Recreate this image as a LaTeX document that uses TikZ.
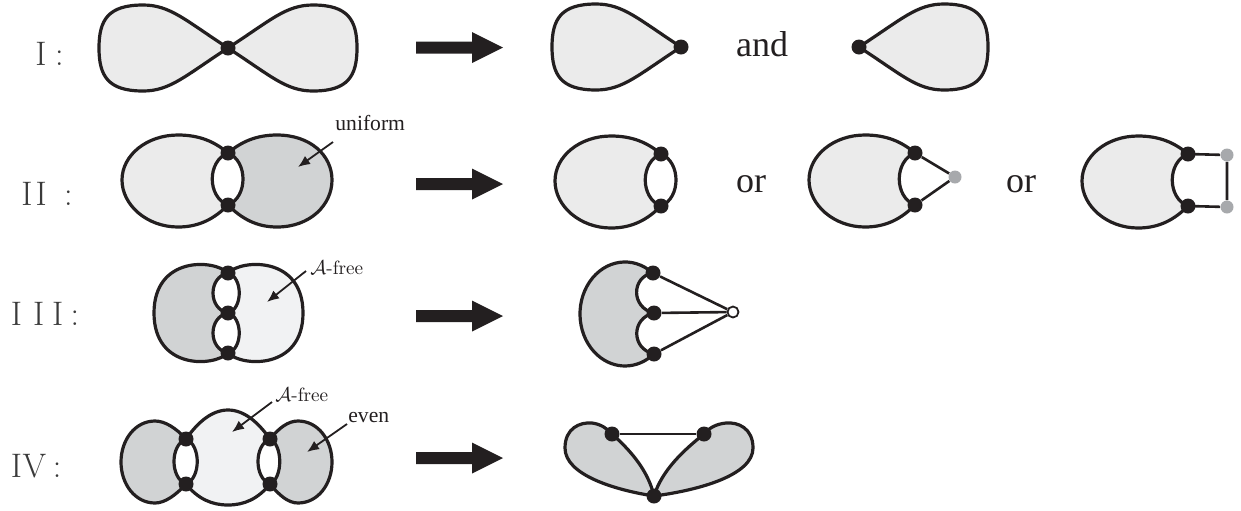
\documentclass[tikz,border=0pt]{standalone}
\usepackage{fontspec}
\newfontfamily\tnr{Liberation Serif}
\usetikzlibrary{arrows.meta}
\definecolor{ink}{HTML}{231F20}
\definecolor{lightg}{HTML}{EBEBEB}
\definecolor{darkg}{HTML}{D1D3D4}
\definecolor{paleg}{HTML}{F1F2F3}
\definecolor{dotg}{HTML}{A7A9AC}
\definecolor{lblc}{HTML}{3A3A3A}
\begin{document}
\begin{tikzpicture}[x=0.5pt,y=-0.5pt,
  outl/.style={draw=ink,line width=1.6pt,line join=round},
  vtx/.style={circle,fill=ink,inner sep=0pt,minimum size=7.5pt},
  gvtx/.style={circle,fill=dotg,inner sep=0pt,minimum size=6.5pt},
  ovtx/.style={circle,draw=ink,fill=white,line width=0.9pt,inner sep=0pt,minimum size=5.5pt},
  edgeln/.style={draw=ink,line width=1.3pt},
  rowlbl/.style={font=\fontsize{17pt}{17pt}\selectfont,text=lblc,inner sep=0pt,anchor=base west},
  word/.style={font=\tnr\fontsize{18pt}{18pt}\selectfont,text=ink,inner sep=0pt,anchor=base},
  smallword/.style={font=\tnr\fontsize{10.8pt}{11pt}\selectfont,text=ink,inner sep=0pt,anchor=base west},
  mathlbl/.style={font=\fontsize{9.6pt}{10pt}\selectfont,text=ink,inner sep=0pt,anchor=base west},
  ptr/.style={draw=ink,line width=0.9pt,-{Latex[length=6pt,width=5pt]}},
  lobe/.pic={\path[outl,fill=lightg] (0,0) .. controls (-43,-28) and (-58,-43) .. (-85,-43)
      .. controls (-120,-43) and (-129,-28) .. (-129,0)
      .. controls (-129,28) and (-120,43) .. (-85,43)
      .. controls (-58,43) and (-43,28) .. (0,0) -- cycle;},
  bigarr/.pic={\fill[ink] (0,-6) -- (56,-6) -- (56,-15.5) -- (87,0) -- (56,15.5) -- (56,6) -- (0,6) -- cycle;}
]
\useasboundingbox (0,0) rectangle (1241,510);

% ---------------- Row I ----------------
\node[rowlbl] (l1) at (35,65) {I\hspace{4.3pt}:};
\path (228,48) pic {lobe};
\path (228,48) pic[xscale=-1] {lobe};
\node[vtx] (r1v) at (228,48) {};
\path (416,47.5) pic {bigarr};
\path (681,47) pic {lobe};
\node[vtx] (r1a) at (681,47) {};
\node[word] (and) at (762,56) {and};
\path (859,47) pic[xscale=-1] {lobe};
\node[vtx] (r1b) at (859,47) {};

% ---------------- Row II ----------------
\node[rowlbl] (l2) at (21,205) {I\hspace{1.5pt}I\hspace{8.7pt}:};
\path[outl,fill=lightg] (228,153) .. controls (215,142) and (200,135) .. (178,135)
  .. controls (147,135) and (122,155) .. (122,180)
  .. controls (122,205) and (147,227) .. (178,227)
  .. controls (200,227) and (215,218) .. (228,205)
  .. controls (207,197) and (207,161) .. (228,153) -- cycle;
\path[outl,fill=darkg] (228,153) .. controls (241,142) and (256,135) .. (277,135)
  .. controls (310,135) and (332,155) .. (332,180)
  .. controls (332,205) and (310,227) .. (277,227)
  .. controls (256,227) and (241,218) .. (228,205)
  .. controls (248,197) and (248,161) .. (228,153) -- cycle;
\node[vtx] (r2a) at (228,153) {};
\node[vtx] (r2b) at (228,205) {};
\node[smallword] (unif) at (335,130) {uniform};
\coordinate (ua) at (333,142);
\coordinate (ut) at (298,167);
\draw[ptr] (ua) -- (ut);
\path (416,184) pic {bigarr};

\begin{scope}[shift={(433,1)}]
\path[outl,fill=lightg] (228,153) .. controls (215,142) and (200,135) .. (178,135)
  .. controls (147,135) and (122,155) .. (122,180)
  .. controls (122,205) and (147,227) .. (178,227)
  .. controls (200,227) and (215,218) .. (228,205)
  .. controls (207,197) and (207,161) .. (228,153) -- cycle;
\draw[outl] (228,205) .. controls (248,197) and (248,161) .. (228,153);
\node[vtx] (s1a) at (228,153) {};
\node[vtx] (s1b) at (228,205) {};
\end{scope}
\node[word] (or1) at (751,192) {or};

\begin{scope}[shift={(687,0)}]
\path[outl,fill=lightg] (228,153) .. controls (215,142) and (200,135) .. (178,135)
  .. controls (147,135) and (122,155) .. (122,180)
  .. controls (122,205) and (147,227) .. (178,227)
  .. controls (200,227) and (215,218) .. (228,205)
  .. controls (207,197) and (207,161) .. (228,153) -- cycle;
\node[vtx] (s2a) at (228,153) {};
\node[vtx] (s2b) at (228,205) {};
\node[gvtx] (s2g) at (268,177) {};
\end{scope}
\draw[edgeln] (s2a) -- (s2g) -- (s2b);
\node[word] (or2) at (1021,192) {or};

\begin{scope}[shift={(960,1)}]
\path[outl,fill=lightg] (228,153) .. controls (215,142) and (200,135) .. (178,135)
  .. controls (147,135) and (122,155) .. (122,180)
  .. controls (122,205) and (147,227) .. (178,227)
  .. controls (200,227) and (215,218) .. (228,205)
  .. controls (207,197) and (207,161) .. (228,153) -- cycle;
\node[gvtx] (s3g) at (267,154) {};
\node[gvtx] (s3h) at (267,206) {};
\end{scope}
\draw[edgeln] (1188,154) coordinate (s3pa) -- (s3g) -- (s3h) -- (1188,206) coordinate (s3pb);
\node[vtx] (s3a) at (s3pa) {};
\node[vtx] (s3b) at (s3pb) {};

% ---------------- Row III ----------------
\node[rowlbl] (l3) at (10.5,325) {I\hspace{5.5pt}I\hspace{4pt}I\hspace{3.6pt}:};
\path[outl,fill=darkg] (228,273) .. controls (214,259) and (154,256) .. (154,313)
  .. controls (154,370) and (214,367) .. (228,353)
  .. controls (208,349) and (208,317) .. (228,313)
  .. controls (208,309) and (208,277) .. (228,273) -- cycle;
\path[outl,fill=paleg] (228,273) .. controls (242,259) and (303,256) .. (303,313)
  .. controls (303,370) and (242,367) .. (228,353)
  .. controls (243,349) and (243,317) .. (228,313)
  .. controls (243,309) and (243,277) .. (228,273) -- cycle;
\node[vtx] (r3a) at (228,273) {};
\node[vtx] (r3b) at (228,313) {};
\node[vtx] (r3c) at (228,353) {};
\node[mathlbl] (af3) at (310,274) {$\mathcal{A}$-free};
\coordinate (aa3) at (306,271);
\coordinate (at3) at (267,302);
\draw[ptr] (aa3) -- (at3);
\path (416,316) pic {bigarr};

\path[outl,fill=darkg] (652.7,273) arc[start angle=308,end angle=50,x radius=45,y radius=52]
  .. controls (631,349) and (631,318) .. (654,313)
  .. controls (631,308) and (631,277) .. (652.7,273) -- cycle;
\node[vtx] (t3a) at (653,273) {};
\node[vtx] (t3b) at (654,313) {};
\node[vtx] (t3c) at (654,354) {};
\node[ovtx] (t3o) at (733,312) {};
\draw[edgeln] (t3a) -- (t3o);
\draw[edgeln] (t3b) -- (t3o);
\draw[edgeln] (t3c) -- (t3o);

% ---------------- Row IV ----------------
\node[rowlbl] (l4) at (10.5,477) {I\hspace{0.3pt}V\hspace{3.4pt}:};
\path[outl,fill=darkg] (186,439) .. controls (176,428) and (165,421) .. (155,421)
  .. controls (135,421) and (121,440) .. (121,462)
  .. controls (121,484) and (135,503) .. (155,503)
  .. controls (165,503) and (176,495) .. (186,484)
  .. controls (170,478) and (170,445) .. (186,439) -- cycle;
\path[outl,fill=paleg] (186,439) .. controls (198,422) and (212,410) .. (228,410)
  .. controls (244,410) and (258,422) .. (270,439)
  .. controls (254,445) and (254,478) .. (270,484)
  .. controls (258,499) and (244,505) .. (228,505)
  .. controls (212,505) and (198,499) .. (186,484)
  .. controls (201,478) and (201,445) .. (186,439) -- cycle;
\path[outl,fill=darkg] (270,439) .. controls (279,428) and (288,421) .. (298,421)
  .. controls (318,421) and (332,440) .. (332,462)
  .. controls (332,484) and (318,503) .. (298,503)
  .. controls (288,503) and (279,495) .. (270,484)
  .. controls (283,478) and (283,445) .. (270,439) -- cycle;
\node[vtx] (r4a) at (186,439) {};
\node[vtx] (r4b) at (186,484) {};
\node[vtx] (r4c) at (270,439) {};
\node[vtx] (r4d) at (270,484) {};
\node[mathlbl] (af4) at (275,401) {$\mathcal{A}$-free};
\coordinate (aa4) at (272,402);
\coordinate (at4) at (232,432);
\draw[ptr] (aa4) -- (at4);
\node[smallword] (even) at (348,422) {even};
\coordinate (ea) at (347,424);
\coordinate (et) at (307,452);
\draw[ptr] (ea) -- (et);
\path (416,458) pic {bigarr};

\path[outl,fill=darkg] (654,496) .. controls (615,490) and (565,475) .. (565,448)
  .. controls (565,428) and (580,422) .. (592,423)
  .. controls (600,424) and (607,428) .. (612,434)
  .. controls (630,450) and (648,470) .. (654,496) -- cycle;
\path[outl,fill=darkg] (654,496) .. controls (700,490) and (753,475) .. (753,448)
  .. controls (753,428) and (738,422) .. (726,423)
  .. controls (716,424) and (709,428) .. (704,434)
  .. controls (684,450) and (662,470) .. (654,496) -- cycle;
\node[vtx] (t4a) at (612,434) {};
\node[vtx] (t4b) at (704,434) {};
\node[vtx] (t4c) at (654,496) {};
\draw[draw=ink,line width=1pt] (t4a) -- (t4b);
\end{tikzpicture}
\end{document}
